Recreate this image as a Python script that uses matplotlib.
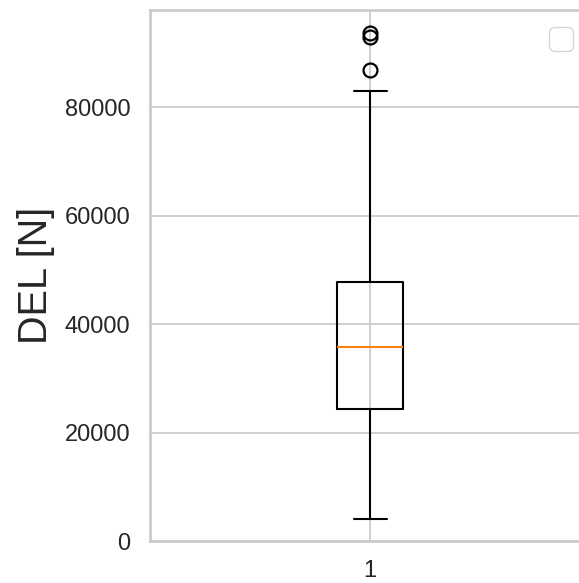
import matplotlib
matplotlib.use("Agg")
import matplotlib.pyplot as plt
import seaborn as sns

sns.set_theme(style="whitegrid")
plt.rcParams['font.family'] = ['Liberation Sans', 'DejaVu Sans']

# box statistics
labels = ['1']
q1 = [24300]
med = [35700]
q3 = [47800]
whislo = [4050]
whishi = [82900]
fliers = [[86800, 93000, 93700]]

stats = []
for i in range(len(labels)):
    stats.append(dict(label=labels[i], q1=q1[i], med=med[i], q3=q3[i],
                      whislo=whislo[i], whishi=whishi[i], fliers=fliers[i]))

fig = plt.figure(figsize=(5.79, 5.83), dpi=100)
ax = fig.add_axes([150/579, 1-541/583, 440/579, 531/583])

lw = 1.5
ax.bxp(stats, widths=0.15,
       boxprops=dict(color='black', linewidth=lw),
       whiskerprops=dict(color='black', linewidth=lw),
       capprops=dict(color='black', linewidth=lw),
       medianprops=dict(color='#ff7f0e', linewidth=lw),
       flierprops=dict(marker='o', markerfacecolor='none', markeredgecolor='black',
                       markersize=10, markeredgewidth=1.6))

ax.set_ylim(0, 97900)
ax.set_xlim(0.5, 1.5)
ax.set_ylabel('DEL [N]', fontsize=28.5, color='#262626', labelpad=7)
ax.tick_params(axis='both', labelsize=17, colors='#262626', pad=8)
ax.grid(True, color='#cccccc', linewidth=1.3)
for s in ax.spines.values():
    s.set_color('#cccccc')
    s.set_linewidth(2)
ax.legend(handles=[], loc='upper right', fontsize=22, borderaxespad=0.55)

fig.savefig('out.png', dpi=100)
